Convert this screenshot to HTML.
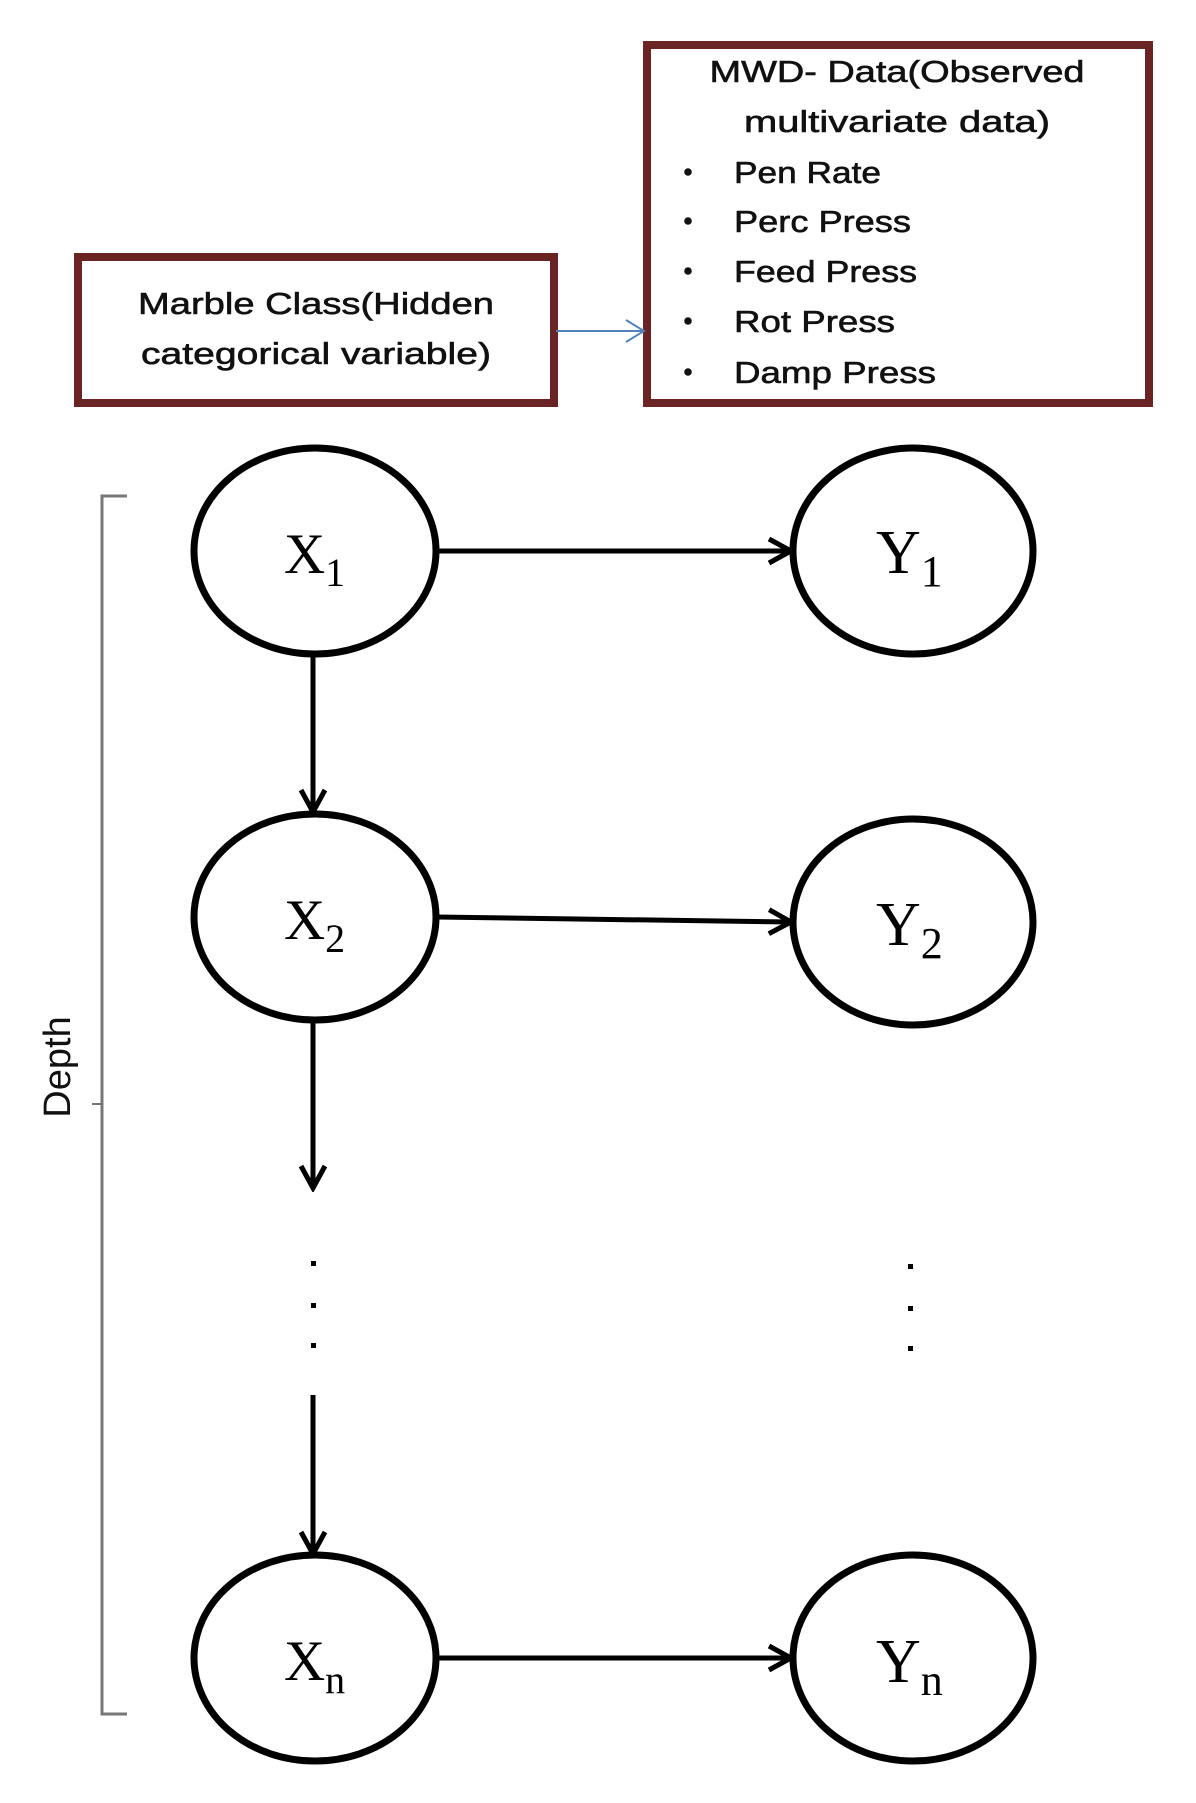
<!DOCTYPE html>
<html><head><meta charset="utf-8"><style>
html,body{margin:0;padding:0;background:#fff;}
svg{display:block;}
</style></head><body>
<svg width="1196" height="1803" viewBox="0 0 1196 1803" xmlns="http://www.w3.org/2000/svg">
<defs>
<marker id="ah" markerWidth="30" markerHeight="30" refX="26" refY="15" orient="auto" markerUnits="userSpaceOnUse">
<path d="M4,3 L26,15 L4,27" fill="none" stroke="#000" stroke-width="5"/>
</marker>
<marker id="ahb" markerWidth="30" markerHeight="30" refX="26" refY="15" orient="auto" markerUnits="userSpaceOnUse">
<path d="M8,4 L26,15 L8,26" fill="none" stroke="#4f81bd" stroke-width="2"/>
</marker>
</defs>
<g font-family="Liberation Sans, sans-serif" fill="#111" stroke="#111" stroke-width="0.6">
<rect x="78" y="257" width="476" height="146" fill="none" stroke="#6b2424" stroke-width="8"/>
<text x="316" y="314" font-size="31" text-anchor="middle" textLength="356" lengthAdjust="spacingAndGlyphs">Marble Class(Hidden</text>
<text x="316" y="364" font-size="31" text-anchor="middle" textLength="350" lengthAdjust="spacingAndGlyphs">categorical variable)</text>
<rect x="647" y="45" width="502" height="358" fill="none" stroke="#6b2424" stroke-width="8"/>
<text x="897" y="82" font-size="31" text-anchor="middle" textLength="375" lengthAdjust="spacingAndGlyphs">MWD- Data(Observed</text>
<text x="897" y="132" font-size="31" text-anchor="middle" textLength="306" lengthAdjust="spacingAndGlyphs">multivariate data)</text>
<g font-size="31">
<circle cx="688" cy="172" r="3.5"/><text x="734" y="183" textLength="147" lengthAdjust="spacingAndGlyphs">Pen Rate</text>
<circle cx="688" cy="221" r="3.5"/><text x="734" y="232" textLength="177" lengthAdjust="spacingAndGlyphs">Perc Press</text>
<circle cx="688" cy="271" r="3.5"/><text x="734" y="282" textLength="183" lengthAdjust="spacingAndGlyphs">Feed Press</text>
<circle cx="688" cy="321" r="3.5"/><text x="734" y="332" textLength="161" lengthAdjust="spacingAndGlyphs">Rot Press</text>
<circle cx="688" cy="372" r="3.5"/><text x="734" y="383" textLength="202" lengthAdjust="spacingAndGlyphs">Damp Press</text>
</g>
</g>
<line x1="556" y1="331" x2="644" y2="331" stroke="#4f81bd" stroke-width="2" marker-end="url(#ahb)"/>
<g fill="none" stroke="#000" stroke-width="7">
<ellipse cx="315" cy="551" rx="121" ry="103"/>
<ellipse cx="913" cy="551" rx="120" ry="103"/>
<ellipse cx="315" cy="917" rx="121" ry="103"/>
<ellipse cx="913" cy="922" rx="120" ry="103"/>
<ellipse cx="315" cy="1658" rx="121" ry="103"/>
<ellipse cx="913" cy="1658" rx="120" ry="103"/>
</g>
<g stroke="#000" stroke-width="5" fill="none">
<line x1="436" y1="551" x2="791" y2="551" marker-end="url(#ah)"/>
<line x1="436" y1="917" x2="791" y2="922" marker-end="url(#ah)"/>
<line x1="436" y1="1658" x2="791" y2="1658" marker-end="url(#ah)"/>
<line x1="313" y1="654" x2="313" y2="812" marker-end="url(#ah)"/>
<line x1="313" y1="1020" x2="313" y2="1188" marker-end="url(#ah)"/>
<line x1="313" y1="1395" x2="313" y2="1554" marker-end="url(#ah)"/>
</g>
<g fill="#000">
<rect x="311" y="1261" width="5" height="5"/><rect x="311" y="1303" width="5" height="5"/><rect x="311" y="1343" width="5" height="5"/>
<rect x="908" y="1264" width="5" height="5"/><rect x="908" y="1306" width="5" height="5"/><rect x="908" y="1346" width="5" height="5"/>
</g>
<path d="M127,496 L102,496 L102,1714 L127,1714" fill="none" stroke="#777" stroke-width="3"/>
<path d="M102,1104 L92,1104" stroke="#777" stroke-width="2"/>
<text transform="translate(70,1067) rotate(-90)" font-family="Liberation Sans, sans-serif" font-size="38" fill="#111" text-anchor="middle">Depth</text>
<g font-family="Liberation Serif, serif" fill="#000">
<text x="284" y="573" font-size="57">X<tspan font-size="40" dy="13">1</tspan></text>
<text x="876" y="573" font-size="62">Y<tspan font-size="44" dy="13">1</tspan></text>
<text x="284" y="939" font-size="57">X<tspan font-size="40" dy="13">2</tspan></text>
<text x="876" y="945" font-size="62">Y<tspan font-size="44" dy="13">2</tspan></text>
<text x="284" y="1680" font-size="57">X<tspan font-size="40" dy="13">n</tspan></text>
<text x="876" y="1682" font-size="62">Y<tspan font-size="44" dy="13">n</tspan></text>
</g>
</svg>
</body></html>
